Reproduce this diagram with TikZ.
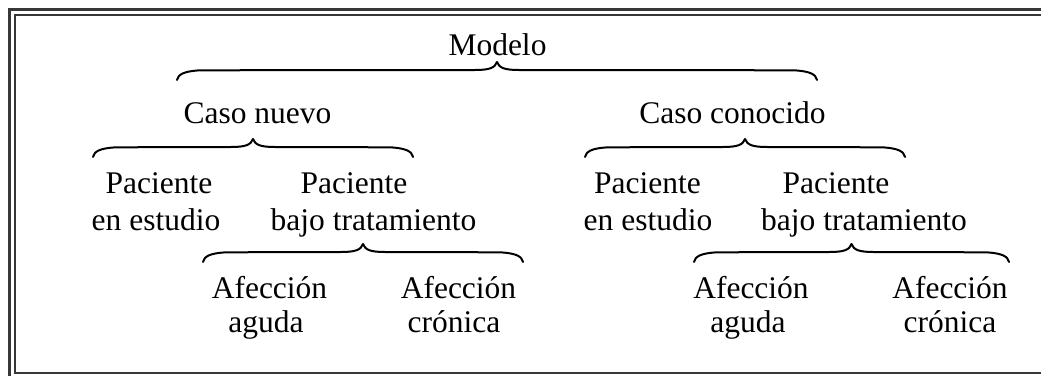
\documentclass[tikz,border=0pt]{standalone}
\usepackage{fontspec}
\setmainfont{Liberation Serif}
\usetikzlibrary{calc}
\definecolor{framegray}{RGB}{55,55,55}
\begin{document}
\begin{tikzpicture}[x=1pt,y=-1pt,
  lbl/.style={anchor=base, inner sep=0pt, font=\fontsize{31.5}{36}\selectfont},
  curly/.style={draw=black, line width=2pt, line cap=round, line join=round,
    to path={let \p1=(\tikztostart), \p2=(\tikztotarget), \n1={0.5*(\x2-\x1)} in
      (\p1) .. controls +(1pt,6pt) and +(-12pt,-1pt) .. (\x1+20pt,\y1+9.5pt)
      .. controls +(40pt,0.5pt) and +(-40pt,0pt) .. (\x1+\n1-22pt,\y1+10pt)
      .. controls +(14pt,0pt) and +(-2pt,-6pt) .. (\x1+\n1,\y1+18pt)
      .. controls +(2pt,-6pt) and +(-14pt,0pt) .. (\x1+\n1+22pt,\y1+10pt)
      .. controls +(40pt,0pt) and +(-40pt,0.5pt) .. (\x2-20pt,\y1+9.5pt)
      .. controls +(12pt,-1pt) and +(-1pt,6pt) .. (\p2)}},
  frameline/.style={draw=framegray, line width=2.4pt}]
\useasboundingbox (0,0) rectangle (1041,375);
\clip (0,0) rectangle (1041,375);
\fill[white] (0,0) rectangle (1041,375);
\draw[frameline] (9.5,9.5) rectangle (1060,390);
\draw[frameline] (14.7,14.7) rectangle (1050,372.8);

\node[lbl] (modelo) at (497.5,55) {Modelo};
\node[lbl] (nuevo) at (257.5,123) {Caso nuevo};
\node[lbl] (conocido) at (732.5,123) {Caso conocido};
\node[lbl] (pe1a) at (159,193) {Paciente};
\node[lbl] (pe1b) at (156,230) {en estudio};
\node[lbl] (pt1a) at (354,193) {Paciente};
\node[lbl] (pt1b) at (373.5,230) {bajo tratamiento};
\node[lbl] (pe2a) at (647.5,193) {Paciente};
\node[lbl] (pe2b) at (648,230) {en estudio};
\node[lbl] (pt2a) at (836,193) {Paciente};
\node[lbl] (pt2b) at (864,230) {bajo tratamiento};
\node[lbl] (ag1a) at (269.5,298) {Afección};
\node[lbl] (ag1b) at (266,332) {aguda};
\node[lbl] (cr1a) at (458.5,298) {Afección};
\node[lbl] (cr1b) at (454,332) {crónica};
\node[lbl] (ag2a) at (751,298) {Afección};
\node[lbl] (ag2b) at (748,332) {aguda};
\node[lbl] (cr2a) at (950,298) {Afección};
\node[lbl] (cr2b) at (950,332) {crónica};

\coordinate (b0l) at (177,80);  \coordinate (b0r) at (817,80);
\coordinate (b1l) at (93,157);  \coordinate (b1r) at (413,157);
\coordinate (b2l) at (585,157); \coordinate (b2r) at (905,157);
\coordinate (b3l) at (203,262); \coordinate (b3r) at (523,262);
\coordinate (b4l) at (694,262); \coordinate (b4r) at (1009,262);

\draw[curly] (b0l) to (b0r);
\draw[curly] (b1l) to (b1r);
\draw[curly] (b2l) to (b2r);
\draw[curly] (b3l) to (b3r);
\draw[curly] (b4l) to (b4r);
\end{tikzpicture}
\end{document}
